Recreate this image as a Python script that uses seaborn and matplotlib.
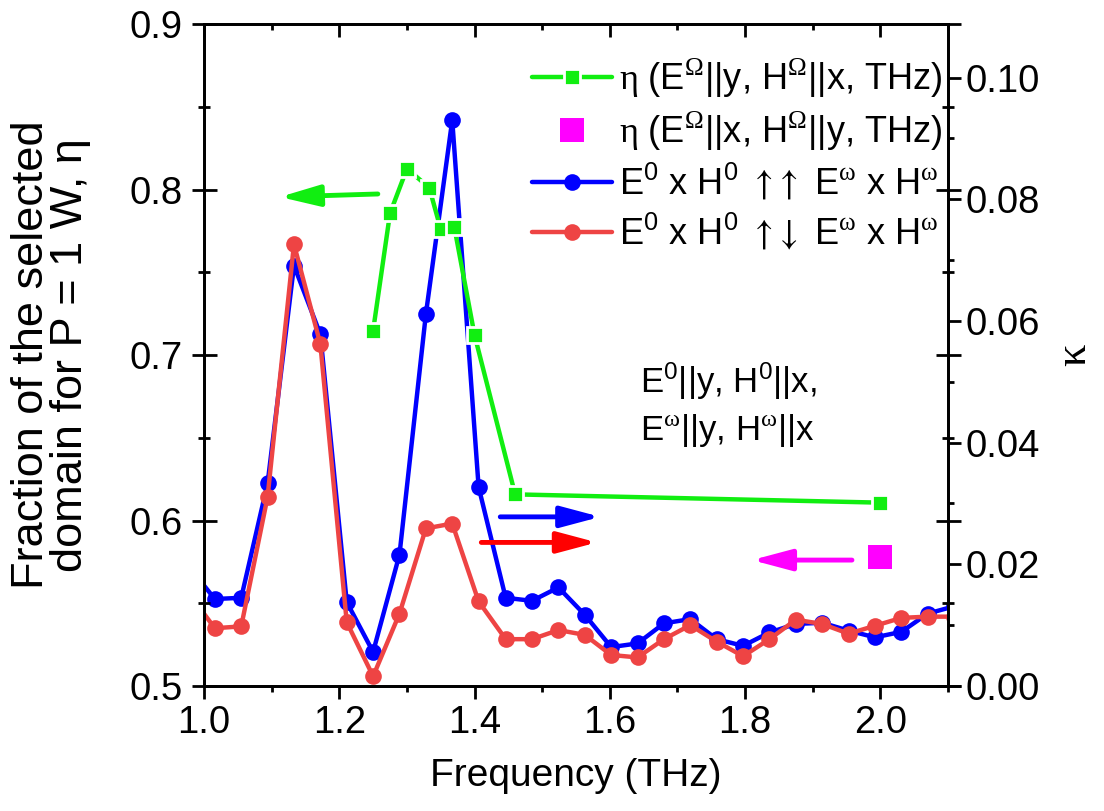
import matplotlib
matplotlib.use("Agg")
import matplotlib.pyplot as plt
import seaborn as sns
from matplotlib.lines import Line2D
from matplotlib.ticker import MultipleLocator, FormatStrFormatter

# Frequency grid (THz) of the pump-probe configurations
freq = [0.977, 1.016, 1.055, 1.094, 1.133, 1.172, 1.211, 1.250, 1.289, 1.328,
        1.367, 1.406, 1.446, 1.485, 1.524, 1.563, 1.602, 1.641, 1.680, 1.719,
        1.758, 1.797, 1.836, 1.875, 1.914, 1.953, 1.992, 2.031, 2.070, 2.109]

# kappa for co-directed Poynting vectors (E0 x H0 up-up Ew x Hw)
kappa_parallel = [0.0197, 0.0143, 0.0145, 0.0333, 0.0691, 0.0578, 0.0138, 0.0056,
                  0.0216, 0.0611, 0.0930, 0.0327, 0.0145, 0.0140, 0.0162, 0.0117,
                  0.0064, 0.0070, 0.0103, 0.0110, 0.0077, 0.0066, 0.0088, 0.0102,
                  0.0104, 0.0091, 0.0080, 0.0089, 0.0119, 0.0131]

# kappa for counter-directed Poynting vectors (E0 x H0 up-down Ew x Hw)
kappa_antiparallel = [0.0153, 0.0095, 0.0098, 0.0311, 0.0726, 0.0562, 0.0105, 0.0016,
                      0.0119, 0.0259, 0.0267, 0.0139, 0.0077, 0.0077, 0.0092, 0.0084,
                      0.0051, 0.0047, 0.0077, 0.0100, 0.0073, 0.0049, 0.0077, 0.0109,
                      0.0102, 0.0086, 0.0099, 0.0112, 0.0114, 0.0114]

# Fraction of the selected domain, eta (left axis)
freq_eta_y = [1.25, 1.275, 1.30, 1.333, 1.35, 1.37, 1.40, 1.46, 2.00]
eta_y = [0.7147, 0.7856, 0.8126, 0.8011, 0.776, 0.7775, 0.712, 0.6158, 0.6108]
freq_eta_x = [2.00]
eta_x = [0.578]

legend_labels = [
    r"$\mathsf{η}$ (E$^{\mathsf{Ω}}$||y, H$^{\mathsf{Ω}}$||x, THz)",
    r"$\mathsf{η}$ (E$^{\mathsf{Ω}}$||x, H$^{\mathsf{Ω}}$||y, THz)",
    r"E$^0$ x H$^0$ $\mathcal{\uparrow\!\uparrow}$ E$^{\mathsf{ω}}$ x H$^{\mathsf{ω}}$",
    r"E$^0$ x H$^0$ $\mathcal{\uparrow\!\downarrow}$ E$^{\mathsf{ω}}$ x H$^{\mathsf{ω}}$",
]

GREEN = "#11ee11"
MAGENTA = "#ff00ff"
BLUE = "#0000ff"
RED = "#ee4444"

sns.set_style("ticks")
plt.rcParams["font.family"] = ["Liberation Sans", "DejaVu Sans"]
plt.rcParams["mathtext.fontset"] = "custom"
plt.rcParams["mathtext.rm"] = "Liberation Sans"
plt.rcParams["mathtext.it"] = "Liberation Sans:italic"
plt.rcParams["mathtext.bf"] = "Liberation Sans:bold"
plt.rcParams["mathtext.sf"] = "Liberation Serif"
plt.rcParams["mathtext.cal"] = "STIXGeneral"
for key in ("text.color", "axes.labelcolor", "xtick.color", "ytick.color",
            "axes.edgecolor"):
    plt.rcParams[key] = "black"
plt.rcParams["axes.linewidth"] = 2.0

fig = plt.figure(figsize=(11.04, 8.11), dpi=100)
ax = fig.add_axes([0.1848, 0.1541, 0.6739, 0.8163])
ax2 = ax.twinx()

# kappa curves on the right axis
sns.lineplot(x=freq, y=kappa_parallel, ax=ax2, color=BLUE, lw=3.2, marker="o",
             markersize=12, markeredgecolor=BLUE, markeredgewidth=0,
             estimator=None, sort=False, legend=False)
sns.lineplot(x=freq, y=kappa_antiparallel, ax=ax2, color=RED, lw=3.2, marker="o",
             markersize=12, markeredgecolor=RED, markeredgewidth=0,
             estimator=None, sort=False, legend=False)

# eta on the left axis, drawn above the kappa curves
ax.set_zorder(ax2.get_zorder() + 1)
ax.patch.set_visible(False)
sns.lineplot(x=freq_eta_y, y=eta_y, ax=ax, color=GREEN, lw=3.2, marker="s",
             markersize=11, markeredgecolor="white", markeredgewidth=2,
             estimator=None, sort=False, legend=False)
sns.scatterplot(x=freq_eta_x, y=eta_x, ax=ax, color=MAGENTA, marker="s",
                s=300, linewidth=0, legend=False)

# axis ranges and ticks
ax.set_xlim(1.0, 2.1)
ax.set_ylim(0.5, 0.9)
ax2.set_ylim(0.0, 0.1088)
ax.xaxis.set_major_locator(MultipleLocator(0.2))
ax.xaxis.set_minor_locator(MultipleLocator(0.1))
ax.xaxis.set_major_formatter(FormatStrFormatter("%.1f"))
ax.yaxis.set_major_locator(MultipleLocator(0.1))
ax.yaxis.set_minor_locator(MultipleLocator(0.05))
ax.yaxis.set_major_formatter(FormatStrFormatter("%.1f"))
ax2.yaxis.set_major_locator(MultipleLocator(0.02))
ax2.yaxis.set_minor_locator(MultipleLocator(0.01))
ax2.yaxis.set_major_formatter(FormatStrFormatter("%.2f"))

ax.tick_params(axis="x", which="both", direction="out", width=2, labelsize=27.5, pad=5)
ax.tick_params(axis="x", which="major", length=9)
ax.tick_params(axis="x", which="minor", length=4.5)
ax.tick_params(axis="y", which="both", direction="inout", width=2, labelsize=27.5,
               left=True, right=True, pad=6.5)
ax.tick_params(axis="y", which="major", length=18)
ax.tick_params(axis="y", which="minor", length=9)

ax2.tick_params(axis="y", which="both", direction="out", width=2, labelsize=27.5, pad=3.5)
ax2.tick_params(axis="y", which="major", length=9)
ax2.tick_params(axis="y", which="minor", length=4.5)

# inward ticks along the top edge
ax2.xaxis.set_visible(True)
ax2.tick_params(axis="x", which="both", direction="in", width=2, bottom=False, top=True,
                labelbottom=False, labeltop=False)
ax2.tick_params(axis="x", which="major", length=9)
ax2.tick_params(axis="x", which="minor", length=4.5)

for a in (ax, ax2):
    for sp in a.spines.values():
        sp.set_visible(True)
        sp.set_linewidth(2.0)
        sp.set_color("black")

ax.set_xlabel("Frequency (THz)", fontsize=28, labelpad=12)
ax.set_ylabel("Fraction of the selected\ndomain for P = 1 W, η", fontsize=32.5,
              linespacing=0.95)
ax.yaxis.set_label_coords(-0.152, 0.5)
ax2.set_ylabel(r"$\mathsf{κ}$", fontsize=32)
ax2.yaxis.set_label_coords(1.143, 0.5)

# arrows pointing to the axis each curve belongs to
def axis_arrow(target, tail, tip, color):
    target.annotate("", xy=tip, xytext=tail,
                    arrowprops=dict(arrowstyle="-|>,head_length=1.2,head_width=0.32",
                                    mutation_scale=20, lw=3.5, color=color,
                                    shrinkA=0, shrinkB=0))

axis_arrow(ax, (1.257, 0.7973), (1.112, 0.7955), GREEN)
axis_arrow(ax, (1.958, 0.5761), (1.81, 0.5761), MAGENTA)
axis_arrow(ax2, (1.438, 0.0278), (1.586, 0.0278), BLUE)
axis_arrow(ax2, (1.410, 0.0236), (1.581, 0.0236), "#ff0000")

ax.text(1.645, 0.670, "E$^0$||y, H$^0$||x,\nE$^{\\mathsf{ω}}$||y, H$^{\\mathsf{ω}}$||x",
        fontsize=25, ha="left", va="center", linespacing=1.35)

handles = [
    Line2D([], [], color=GREEN, lw=3.2, marker="s", markersize=11,
           markeredgecolor="white", markeredgewidth=2),
    Line2D([], [], color=MAGENTA, lw=0, marker="s", markersize=17, markeredgewidth=0),
    Line2D([], [], color=BLUE, lw=3.2, marker="o", markersize=12, markeredgewidth=0),
    Line2D([], [], color=RED, lw=3.2, marker="o", markersize=12, markeredgewidth=0),
]
leg = ax.legend(handles, legend_labels, loc="upper left", bbox_to_anchor=(0.441, 0.95),
                frameon=False, fontsize=26, handlelength=2.2, handletextpad=0.2,
                labelspacing=0.25, borderaxespad=0, borderpad=0)

fig.savefig("out.png", dpi=100)
